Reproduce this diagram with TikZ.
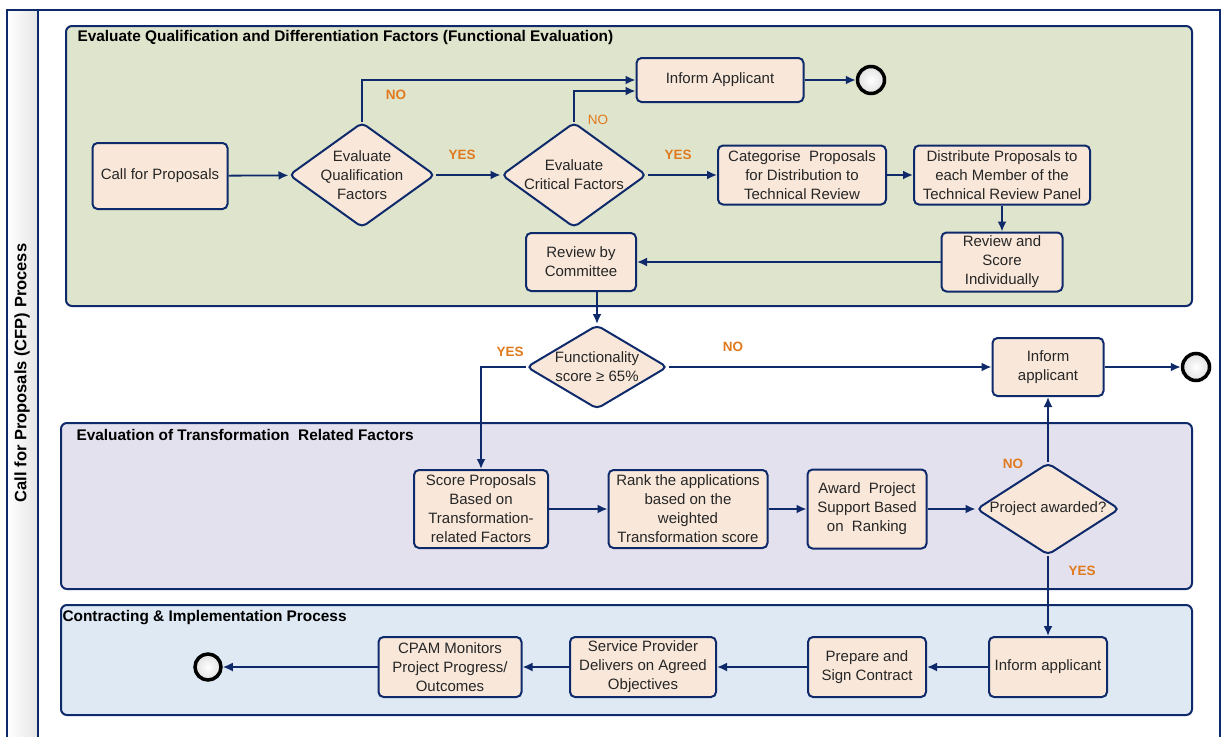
\documentclass[tikz,border=0pt]{standalone}
\usepackage{fontspec}
\setmainfont{Liberation Sans}
\usetikzlibrary{shapes.geometric,arrows.meta,calc}

\definecolor{navy}{HTML}{0E2A6B}
\definecolor{peach}{HTML}{F9E8DA}
\definecolor{greenpool}{HTML}{DFE4CC}
\definecolor{purplepool}{HTML}{E4E1EE}
\definecolor{bluepool}{HTML}{DFE9F3}
\definecolor{ynorange}{HTML}{E07A1F}

\begin{document}
\begin{tikzpicture}[x=1pt,y=-1pt,>={Latex[length=10pt,width=9pt]},
  task/.style={draw=navy,fill=peach,line width=2pt,rounded corners=5pt,align=center,
    inner sep=1pt,text=black!85,font=\fontsize{15}{19}\selectfont},
  gate/.style={diamond,draw=navy,fill=peach,line width=2pt,rounded corners=5pt,align=center,
    inner sep=-8pt,aspect=1.4,text=black!85,font=\fontsize{15}{19}\selectfont},
  endev/.style={circle,draw=black,line width=3.5pt,inner color=white,outer color=black!12,
    minimum size=27pt,inner sep=0pt},
  flow/.style={->,draw=navy,line width=1.8pt},
  pool/.style={draw=navy,line width=2pt,rounded corners=6pt},
  pooltitle/.style={anchor=west,font=\bfseries\fontsize{15.4}{17}\selectfont},
  yn/.style={text=ynorange,font=\bfseries\fontsize{13.5}{15}\selectfont}]

  \useasboundingbox (0,0) rectangle (1222,736);

  % lane
  \fill[left color=white,right color=black!10] (7,10) rectangle (38,745);
  \draw[navy,line width=2pt] (7,745) -- (7,10) -- (1220,10) -- (1220,745);
  \draw[navy,line width=2pt] (38,10) -- (38,745);
  \node[rotate=90,font=\bfseries\fontsize{16.5}{18}\selectfont] (lane) at (22,373) {Call for Proposals (CFP) Process};

  % pools
  \draw[pool,fill=greenpool] (66,26) rectangle (1192,306);
  \draw[pool,fill=purplepool] (61,423) rectangle (1192,589);
  \draw[pool,fill=bluepool] (61,605) rectangle (1192,715);
  \node[pooltitle] (funceval) at (74,38) {Evaluate Qualification and Differentiation Factors (Functional Evaluation)};
  \node[pooltitle] (transeval) at (73,435) {Evaluation of Transformation\ \ Related Factors};
  \node[pooltitle] (contract) at (59,618) {Contracting \& Implementation Process};

  % functional evaluation
  \node[task,minimum width=135pt,minimum height=66pt] (cfp) at (160,176) {Call for Proposals};
  \node[gate,minimum width=146pt,minimum height=105pt] (evalq) at (362,175) {Evaluate\\Qualification\\Factors};
  \node[gate,minimum width=145pt,minimum height=105pt] (evalc) at (574,175) {Evaluate\\Critical Factors};
  \node[task,minimum width=167pt,minimum height=44pt] (inform) at (720,80) {Inform Applicant};
  \node[endev] (endtop) at (871,80) {};
  \node[task,minimum width=168pt,minimum height=59pt] (categ) at (802,175) {Categorise\ \ Proposals\\for Distribution to\\Technical Review};
  \node[task,minimum width=176pt,minimum height=59pt] (distr) at (1002,175) {Distribute Proposals to\\each Member of the\\Technical Review Panel};
  \node[task,minimum width=121pt,minimum height=59pt] (rscore) at (1002,262) {Review and\\Score\\Individually};
  \node[task,minimum width=110pt,minimum height=58pt] (rcomm) at (581,262) {Review by\\Committee};

  \node[gate,minimum width=141pt,minimum height=84pt] (funcs) at (597,367) {Functionality\\score ≥ 65\%};
  \node[task,minimum width=111pt,minimum height=58pt] (informmid) at (1048,367) {Inform\\applicant};
  \node[endev] (endmid) at (1196,367) {};

  % transformation
  \node[task,minimum width=134pt,minimum height=78pt] (scorep) at (481,509) {Score Proposals\\Based on\\Transformation-\\related Factors};
  \node[task,minimum width=159pt,minimum height=78pt] (rank) at (688,509) {Rank the applications\\based on the\\weighted\\Transformation score};
  \node[task,minimum width=119pt,minimum height=79pt] (award) at (867,509) {Award\ \ Project\\Support Based\\on\ \ Ranking};
  \node[gate,minimum width=143pt,minimum height=92pt] (awarded) at (1048,509) {Project awarded?};

  % contracting
  \node[task,minimum width=118pt,minimum height=60pt] (informbot) at (1048,667) {Inform applicant};
  \node[task,minimum width=118pt,minimum height=60pt] (sign) at (867,667) {Prepare and\\Sign Contract};
  \node[task,minimum width=146pt,minimum height=60pt] (deliver) at (643,667) {Service Provider\\Delivers on Agreed\\Objectives};
  \node[task,minimum width=143pt,minimum height=60pt] (monitor) at (450,667) {CPAM Monitors\\Project Progress/\\Outcomes};
  \node[endev,minimum size=26pt] (endbot) at (208,667) {};

  \draw[flow] (cfp) -- (evalq);
  \draw[flow] (evalq) -- (evalc);
  \draw[flow] (evalq.north) |- (inform.west);
  \draw[flow] (evalc.north) |- ($(inform.west)+(0,11)$);
  \draw[flow] (evalc) -- (categ);
  \draw[flow] (categ) -- (distr);
  \draw[flow] (distr) -- (rscore);
  \draw[flow] (inform) -- (endtop);
  \draw[flow] (rscore) -- (rcomm);
  \draw[flow] (rcomm.south -| funcs.north) -- (funcs.north);
  \draw[flow] (funcs.west) -| (scorep.north);
  \draw[flow] (funcs) -- (informmid);
  \draw[flow] (informmid) -- (endmid);

  \draw[flow] (scorep) -- (rank);
  \draw[flow] (rank) -- (award);
  \draw[flow] (award) -- (awarded);
  \draw[flow] (awarded) -- (informmid);
  \draw[flow] (awarded) -- (informbot);

  \draw[flow] (informbot) -- (sign);
  \draw[flow] (sign) -- (deliver);
  \draw[flow] (deliver) -- (monitor);
  \draw[flow] (monitor) -- (endbot);

  \node[yn] (noq) at (396,95) {NO};
  \node[yn] (yesq) at (462,155) {YES};
  \node[yn,font=\fontsize{13.5}{15}\selectfont] (noc) at (598,120) {NO};
  \node[yn] (yesc) at (678,155) {YES};
  \node[yn] (yesf) at (510,352) {YES};
  \node[yn] (nof) at (733,347) {NO};
  \node[yn] (noa) at (1013,464) {NO};
  \node[yn] (yesa) at (1082,571) {YES};

\end{tikzpicture}
\end{document}
